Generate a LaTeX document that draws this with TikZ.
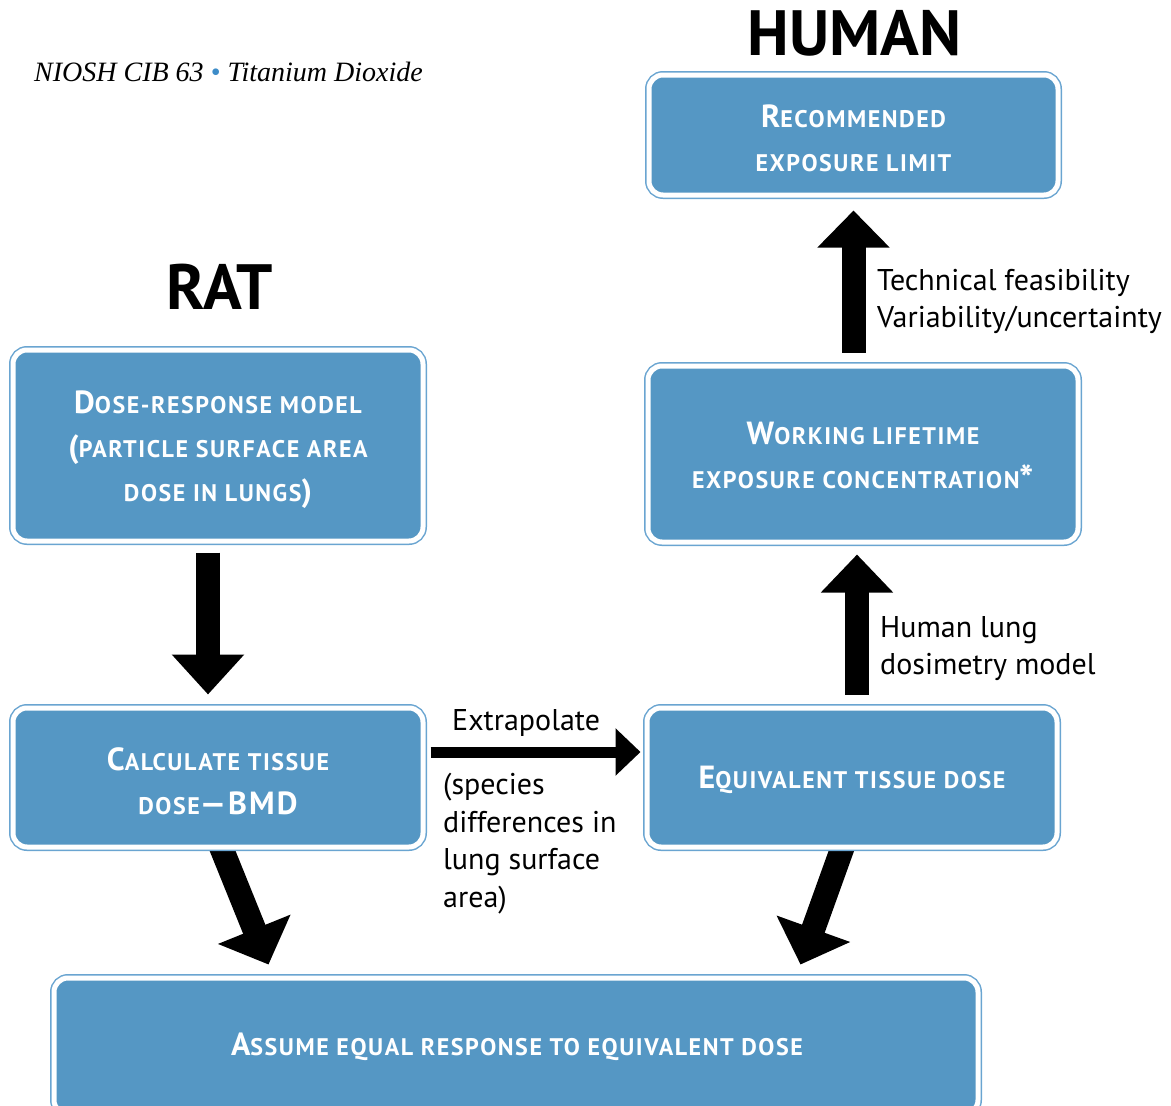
\documentclass[tikz,border=0pt]{standalone}
\usepackage{fontspec}
\setmainfont{PT Sans}
\newfontfamily\serifit{Liberation Serif}
\newfontfamily\boxfont[LetterSpace=6.5]{PT Sans}
\usetikzlibrary{arrows.meta,backgrounds}
\definecolor{boxfill}{HTML}{5597C4}
\definecolor{boxline}{HTML}{6AA5D1}
\definecolor{bulletblue}{HTML}{3D8CC8}
\newcommand\bc[1]{{\fontsize{32}{44}\selectfont #1}}
\tikzset{
 box/.style={rounded corners=14pt, fill=boxfill, draw=white, line width=5pt,
   preaction={draw=boxline, line width=8pt}, inner sep=0pt},
 boxtext/.style={text=white, font=\boxfont\bfseries\fontsize{24}{44}\selectfont,
   align=center, inner sep=0pt},
 bigarrow/.style={line width=24pt, -{Triangle[width=70pt,length=40pt]}},
 thinarrow/.style={line width=11pt, -{Triangle[width=46pt,length=25pt]}},
 lbl/.style={font=\fontsize{30}{37.5}\selectfont, align=left, inner sep=0pt, anchor=north west},
 head/.style={font=\fontsize{64}{64}\selectfont\bfseries, inner sep=0pt, anchor=base},
}
\begin{document}
\begin{tikzpicture}[x=1pt,y=-1pt]
\useasboundingbox (0,0) rectangle (1171,1106);
\clip (0,0) rectangle (1171,1106);
\node[inner sep=0pt, anchor=base west, font=\fontsize{28}{28}\selectfont\serifit\itshape] (title) at (34,81)
  {NIOSH CIB 63 {\color{bulletblue}\textbullet} Titanium Dioxide};
\node[head] (human) at (854.5,55) {HUMAN};
\node[head] (rat) at (220,309) {RAT};

\node[box, minimum width=409pt, minimum height=120pt] (rec) at (853.5,135) {};
\node[box, minimum width=410pt, minimum height=191pt] (dose) at (218,445.5) {};
\node[box, minimum width=430pt, minimum height=176pt] (work) at (863,454) {};
\node[box, minimum width=410pt, minimum height=139pt] (calc) at (218,777.5) {};
\node[box, minimum width=410pt, minimum height=139pt] (equiv) at (852,777.5) {};
\node[box, minimum width=924pt, minimum height=136pt] (assume) at (516,1046) {};

\node[boxtext] (recT) at ([yshift=-3.5pt]rec.center) {\bc{R}ECOMMENDED\\EXPOSURE LIMIT};
\node[boxtext] (doseT) at ([yshift=-4.5pt]dose.center)
  {\bc{D}OSE-RESPONSE MODEL\\\bc{(}PARTICLE SURFACE AREA\\DOSE IN LUNGS\bc{)}};
\node[boxtext] (workT) at ([yshift=-3.5pt]work.center)
  {\bc{W}ORKING LIFETIME\\EXPOSURE CONCENTRATION\raisebox{-4pt}{\fontsize{38}{44}\selectfont *}};
\node[boxtext] (calcT) at ([yshift=-3.5pt]calc.center) {\bc{C}ALCULATE TISSUE\\DOSE\bc{—BMD}};
\node[boxtext] (equivT) at ([yshift=-2pt]equiv.center) {\bc{E}QUIVALENT TISSUE DOSE};
\node[boxtext] (assumeT) at ([xshift=1pt,yshift=-1pt]assume.center) {\bc{A}SSUME EQUAL RESPONSE TO EQUIVALENT DOSE};

\draw[bigarrow, shorten <=9pt, shorten >=11pt] ([xshift=-10pt]dose.south) -- ([xshift=-10pt]calc.north);
\draw[line width=24pt, -{Triangle[width=70pt,length=38pt]}, shorten <=11pt, shorten >=10pt]
  ([xshift=5pt]equiv.north) -- ([xshift=5pt]equiv.north |- work.south);
\draw[line width=24pt, -{Triangle[width=70pt,length=37pt]}, shorten <=11pt, shorten >=13pt]
  ([xshift=-9.5pt]work.north) -- ([xshift=-9.5pt]work.north |- rec.south);
\draw[thinarrow, shorten <=5pt, shorten >=4pt]
  ([yshift=25.5pt]calc.east) -- ([yshift=25.5pt]calc.east -| equiv.west);
\begin{pgfonlayer}{background}
\draw[line width=24pt, -{Triangle[width=76pt,length=38pt]}] ([xshift=1.6pt,yshift=6pt]calc.south) -- ([xshift=217pt,yshift=11pt]assume.north west);
\draw[line width=24pt, -{Triangle[width=76pt,length=38pt]}] ([xshift=-8pt,yshift=6pt]equiv.south) -- ([xshift=-180pt,yshift=11pt]assume.north east);
\end{pgfonlayer}

\node[lbl] (tech) at (877,269) {Technical feasibility\\Variability/uncertainty};
\node[lbl] (hl) at (880,616) {Human lung\\dosimetry model};
\node[lbl] (ext) at (452,709) {Extrapolate};
\node[lbl] (spec) at (443,773) {(species\\differences in\\lung surface\\area)};
\end{tikzpicture}
\end{document}
